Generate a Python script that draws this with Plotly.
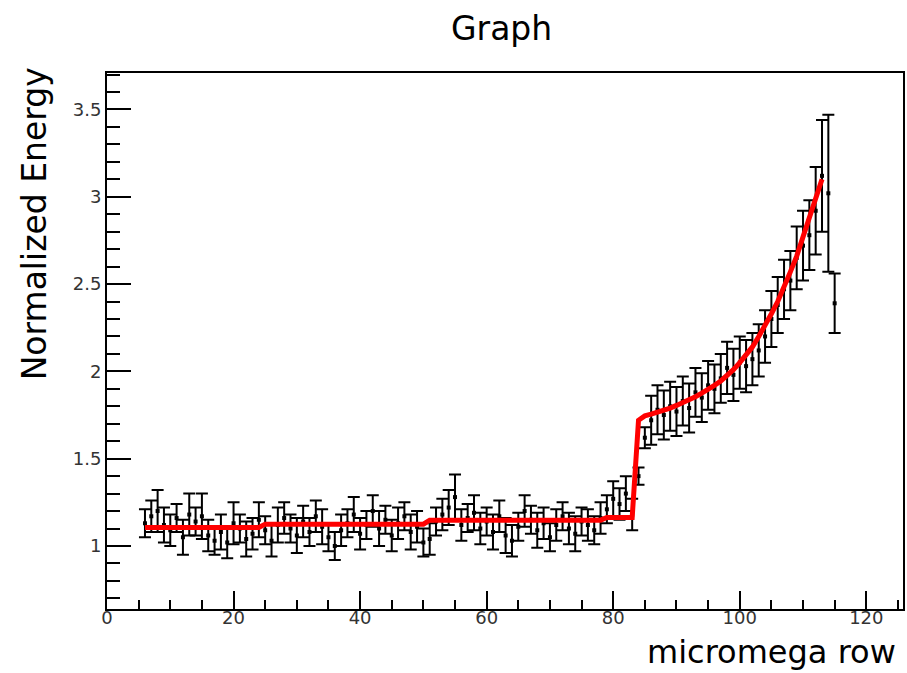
import plotly.graph_objects as go

# ---- data ----
row = list(range(6, 116))
energy = [
    1.13, 1.17, 1.20, 1.12, 1.09, 1.16, 1.05, 1.18, 1.14, 1.17,   # 6-15
    1.06, 1.03, 1.08, 1.02, 1.13, 1.10, 1.04, 1.07, 1.15, 1.09,   # 16-25
    1.03, 1.12, 1.16, 1.10, 1.06, 1.14, 1.08, 1.17, 1.11, 1.05,   # 26-35
    1.00, 1.09, 1.13, 1.18, 1.07, 1.12, 1.20, 1.10, 1.15, 1.06,   # 36-45
    1.13, 1.17, 1.08, 1.11, 1.02, 1.04, 1.14, 1.18, 1.22, 1.28,   # 46-55
    1.12, 1.16, 1.19, 1.10, 1.14, 1.08, 1.17, 1.06, 1.03, 1.11,   # 56-65
    1.20, 1.15, 1.09, 1.13, 1.05, 1.12, 1.17, 1.10, 1.07, 1.14,   # 66-75
    1.12, 1.09, 1.16, 1.21, 1.27, 1.24, 1.30, 1.18, 1.40, 1.62,   # 76-85
    1.72, 1.78, 1.75, 1.80, 1.77, 1.83, 1.79, 1.88, 1.85, 1.92,   # 86-95
    1.90, 1.96, 2.02, 1.98, 2.05, 2.03, 2.07, 2.12, 2.20, 2.30,   # 96-105
    2.38, 2.47, 2.52, 2.65, 2.72, 2.78, 2.92, 3.12, 3.02, 2.39,   # 106-115
]
energy_err = [
    0.08, 0.09, 0.12, 0.10, 0.09, 0.08, 0.10, 0.12, 0.08, 0.13,
    0.09, 0.08, 0.10, 0.09, 0.12, 0.08, 0.10, 0.09, 0.10, 0.08,
    0.09, 0.10, 0.09, 0.08, 0.10, 0.09, 0.08, 0.09, 0.10, 0.08,
    0.08, 0.09, 0.08, 0.10, 0.09, 0.08, 0.09, 0.10, 0.08, 0.09,
    0.09, 0.08, 0.10, 0.09, 0.08, 0.09, 0.08, 0.09, 0.10, 0.13,
    0.09, 0.08, 0.10, 0.09, 0.08, 0.10, 0.09, 0.10, 0.09, 0.08,
    0.09, 0.08, 0.10, 0.09, 0.08, 0.09, 0.08, 0.09, 0.10, 0.08,
    0.09, 0.08, 0.09, 0.08, 0.10, 0.09, 0.10, 0.09, 0.05, 0.06,
    0.14, 0.14, 0.14, 0.14, 0.14, 0.14, 0.14, 0.14, 0.14, 0.14,
    0.14, 0.14, 0.15, 0.15, 0.15, 0.15, 0.15, 0.15, 0.15, 0.16,
    0.16, 0.17, 0.17, 0.18, 0.20, 0.20, 0.25, 0.32, 0.45, 0.17,
]

fit_x = list(range(6, 114))
fit_y = [
    1.106, 1.106, 1.106, 1.106, 1.106, 1.106, 1.106, 1.106, 1.106, 1.106,  # 6-15
    1.106, 1.106, 1.106, 1.106, 1.106, 1.106, 1.106, 1.106, 1.106, 1.125,  # 16-25
    1.125, 1.125, 1.125, 1.125, 1.125, 1.125, 1.125, 1.125, 1.125, 1.125,  # 26-35
    1.125, 1.125, 1.125, 1.125, 1.125, 1.125, 1.125, 1.125, 1.125, 1.125,  # 36-45
    1.125, 1.125, 1.125, 1.125, 1.125, 1.148, 1.148, 1.148, 1.148, 1.148,  # 46-55
    1.148, 1.148, 1.148, 1.148, 1.148, 1.148, 1.148, 1.148, 1.148, 1.148,  # 56-65
    1.148, 1.148, 1.148, 1.148, 1.148, 1.148, 1.148, 1.148, 1.148, 1.148,  # 66-75
    1.148, 1.148, 1.148, 1.163, 1.163, 1.163, 1.163, 1.163, 1.720, 1.745,  # 76-85
    1.755, 1.765, 1.780, 1.790, 1.805, 1.820, 1.835, 1.855, 1.875, 1.895,  # 86-95
    1.920, 1.945, 1.975, 2.010, 2.050, 2.090, 2.140, 2.200, 2.260, 2.330,  # 96-105
    2.400, 2.480, 2.570, 2.660, 2.770, 2.870, 2.980, 3.100,                # 106-113
]

x_ticks = [0, 20, 40, 60, 80, 100, 120]
y_ticks = [1, 1.5, 2, 2.5, 3, 3.5]
y_tick_text = ["1", "1.5", "2", "2.5", "3", "3.5"]

FONT = "DejaVu Sans"

fig = go.Figure()
fig.add_trace(go.Scatter(
    x=row, y=energy, mode="markers",
    marker=dict(symbol="square", size=4, color="black"),
    error_y=dict(type="data", array=energy_err, visible=True,
                 color="black", thickness=2, width=6),
    showlegend=False, hoverinfo="skip",
))
fig.add_trace(go.Scatter(
    x=fit_x, y=fit_y, mode="lines",
    line=dict(color="#ff0000", width=5),
    showlegend=False, hoverinfo="skip",
))

axis_common = dict(
    showgrid=False, zeroline=False, showline=True, linecolor="black",
    linewidth=2, mirror=True, ticks="inside", tickcolor="black", tickwidth=2,
    tickfont=dict(family=FONT, size=18, color="#333333"),
)

fig.update_xaxes(
    range=[0, 125.8], tickvals=x_ticks, ticktext=[str(v) for v in x_ticks],
    ticklen=18, ticklabelstandoff=-9,
    minor=dict(ticks="inside", dtick=5, ticklen=9, tickwidth=2, tickcolor="black", showgrid=False),
    **axis_common,
)
fig.update_yaxes(
    range=[0.639, 3.709], tickvals=y_ticks, ticktext=y_tick_text,
    ticklen=24,
    minor=dict(ticks="inside", dtick=0.1, tick0=0, ticklen=13, tickwidth=2, tickcolor="black", showgrid=False),
    **axis_common,
)

fig.update_layout(
    width=907, height=673,
    margin=dict(l=107, r=2, t=73, b=64, pad=0),
    paper_bgcolor="white", plot_bgcolor="white",
    font=dict(family=FONT, color="black"),
    annotations=[
        dict(text="Graph", xref="paper", yref="paper", x=0.496, y=1.083,
             xanchor="center", yanchor="middle", showarrow=False,
             font=dict(family=FONT, size=33, color="black")),
        dict(text="micromega row", xref="paper", yref="paper", x=0.994, y=-0.08,
             xanchor="right", yanchor="middle", showarrow=False,
             font=dict(family=FONT, size=32, color="black")),
        dict(text="Normalized Energy", xref="paper", yref="paper", x=-0.09, y=1.014,
             xanchor="center", yanchor="top", textangle=-90, showarrow=False,
             font=dict(family=FONT, size=33, color="black")),
    ],
)

fig.write_html("out.html")
